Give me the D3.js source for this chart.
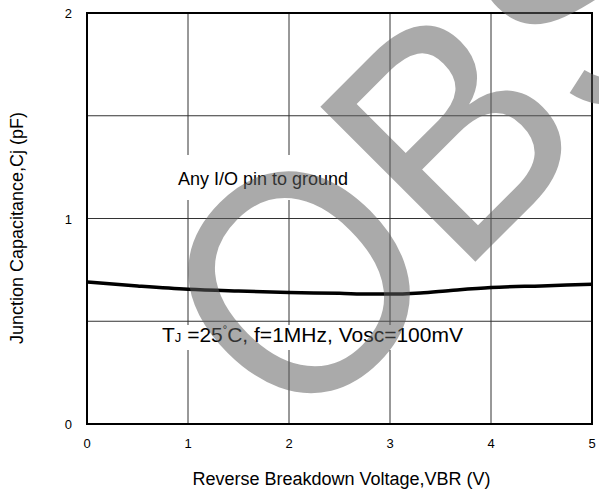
<!DOCTYPE html>
<html>
<head>
<meta charset="utf-8">
<script src="https://cdn.jsdelivr.net/npm/d3@7"></script>
<style>
  body { margin: 0; background: #fff; }
  text { font-family: "Liberation Sans", Arial, sans-serif; }
</style>
</head>
<body>
<svg width="599" height="491"></svg>
<script>
/* data */
var voltage = [0, 0.5, 1, 1.5, 2, 2.5, 2.8, 3, 3.3, 3.6, 4, 4.5, 5];
var capacitance = [0.691, 0.672, 0.656, 0.647, 0.640, 0.636, 0.632, 0.632, 0.638, 0.650, 0.664, 0.672, 0.680];
var xTicks = [0, 1, 2, 3, 4, 5];
var yTicks = [0, 1, 2];
var yGrid = [0.5, 1, 1.5];

var svg = d3.select("svg"),
    margin = {top: 13, right: 7, bottom: 67, left: 87},
    w = +svg.attr("width") - margin.left - margin.right,
    h = +svg.attr("height") - margin.top - margin.bottom;

var g = svg.append("g").attr("transform", "translate(" + margin.left + "," + margin.top + ")");

var xScale = d3.scaleLinear().domain([0, 5]).range([0, w]);
var yScale = d3.scaleLinear().domain([0, 2]).range([h, 0]);

// grid
g.selectAll(".vgrid").data(xTicks.slice(1, -1)).enter().append("line")
  .attr("x1", function(d) { return xScale(d); })
  .attr("x2", function(d) { return xScale(d); })
  .attr("y1", 0).attr("y2", h)
  .attr("stroke", "#333").attr("stroke-width", 1);

g.selectAll(".hgrid").data(yGrid).enter().append("line")
  .attr("x1", 0).attr("x2", w)
  .attr("y1", function(d) { return yScale(d); })
  .attr("y2", function(d) { return yScale(d); })
  .attr("stroke", "#333").attr("stroke-width", 1);

// frame
g.append("rect").attr("width", w).attr("height", h)
  .attr("fill", "none").attr("stroke", "#000").attr("stroke-width", 2);

// tick labels
g.selectAll(".xl").data(xTicks).enter().append("text")
  .attr("x", function(d) { return xScale(d); })
  .attr("y", h + 24)
  .attr("text-anchor", "middle")
  .attr("font-size", 13)
  .text(function(d) { return d; });

g.selectAll(".yl").data(yTicks).enter().append("text")
  .attr("x", -15)
  .attr("y", function(d) { return yScale(d) + 5; })
  .attr("text-anchor", "end")
  .attr("font-size", 13)
  .text(function(d) { return d; });

// annotations with white boxes
g.append("rect").attr("x", 78).attr("y", 142).attr("width", 200).attr("height", 45).attr("fill", "#fff");
g.append("text").attr("x", 91).attr("y", 172).attr("font-size", 18)
  .text("Any I/O pin to ground");

g.append("rect").attr("x", 68).attr("y", 312).attr("width", 315).attr("height", 25).attr("fill", "#fff");
var note = g.append("text").attr("x", 75).attr("y", 329).attr("font-size", 21);
note.append("tspan").text("T");
note.append("tspan").attr("font-size", 13).text("J");
note.append("tspan").text(" =25");
note.append("tspan").attr("font-size", 11).attr("dy", -9).text("°");
note.append("tspan").attr("dy", 9).text("C, f=1MHz, Vosc=100mV");

// curve
var lineFunction = d3.line()
  .x(function(d, i) { return xScale(voltage[i]); })
  .y(function(d) { return yScale(d); })
  .curve(d3.curveMonotoneX);

g.append("path")
  .attr("d", lineFunction(capacitance))
  .attr("fill", "none")
  .attr("stroke", "#000")
  .attr("stroke-width", 3.5);

// axis titles
svg.append("text")
  .attr("x", margin.left + w / 2 + 2)
  .attr("y", 485)
  .attr("text-anchor", "middle")
  .attr("font-size", 18)
  .text("Reverse Breakdown Voltage,VBR (V)");

svg.append("text")
  .attr("transform", "translate(23,228) rotate(-90)")
  .attr("text-anchor", "middle")
  .attr("font-size", 18)
  .text("Junction Capacitance,Cj (pF)");

// watermark
svg.append("text")
  .attr("transform", "translate(296,441) rotate(-45) scale(1,1.08)")
  .attr("font-size", 295)
  .attr("fill", "#5f5f5f")
  .attr("opacity", 0.53)
  .text("OBS");
</script>
</body>
</html>
